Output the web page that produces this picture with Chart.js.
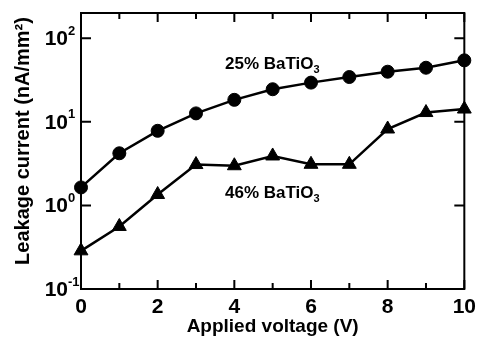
<!DOCTYPE html>
<html>
<head>
<meta charset="utf-8">
<script src="https://cdn.jsdelivr.net/npm/chart.js@4.4.0/dist/chart.umd.min.js"></script>
<style>
  html, body { margin: 0; padding: 0; background: #fff; }
  #wrap { width: 482px; height: 338px; }
</style>
</head>
<body>
<div id="wrap"><canvas id="chartLeak" width="482" height="338"></canvas></div>
<script>
const voltage = [0, 1, 2, 3, 4, 5, 6, 7, 8, 9, 10];
const leak25 = [1.64, 4.2, 7.8, 12.6, 18.3, 24.5, 29.4, 34.3, 39.7, 44.3, 54.3];
const leak46 = [0.286, 0.56, 1.35, 3.08, 2.98, 3.9, 3.1, 3.1, 8.2, 12.9, 14.2];
const yDecades = [-1, 0, 1, 2];
const xTickLabels = ["0", "2", "4", "6", "8", "10"];
const seriesNames = ["25% BaTiO", "46% BaTiO"];

const FONT = '"Liberation Sans", Arial, sans-serif';

function pts(vals) {
    return voltage.map((v, i) => ({ x: v, y: vals[i] }));
}

// frame, inward ticks, custom tick labels and annotations
const decorPlugin = {
    id: "decor",
    beforeDatasetsDraw(chart) {
        const { ctx, chartArea: a, scales: { x, y } } = chart;
        ctx.save();
        ctx.strokeStyle = "#000";
        ctx.lineWidth = 2;
        ctx.strokeRect(a.left, a.top, a.right - a.left, a.bottom - a.top);
        ctx.beginPath();
        voltage.forEach(v => {
            const px = x.getPixelForValue(v);
            const len = v % 2 === 0 ? 9 : 6;
            ctx.moveTo(px, a.bottom); ctx.lineTo(px, a.bottom - len);
            ctx.moveTo(px, a.top); ctx.lineTo(px, a.top + len);
        });
        yDecades.forEach(e => {
            const py = y.getPixelForValue(Math.pow(10, e));
            ctx.moveTo(a.left, py); ctx.lineTo(a.left + 10, py);
            ctx.moveTo(a.right, py); ctx.lineTo(a.right - 10, py);
        });
        ctx.stroke();
        ctx.restore();
    },
    afterDraw(chart) {
        const { ctx, chartArea: a, scales: { y } } = chart;
        ctx.save();
        ctx.fillStyle = "#000";

        // y tick labels 10^n
        yDecades.forEach(e => {
            const py = y.getPixelForValue(Math.pow(10, e));
            ctx.font = "bold 21px " + FONT;
            ctx.textAlign = "right";
            ctx.textBaseline = "middle";
            ctx.fillText("10", 68, py + 1);
            ctx.font = "bold 13px " + FONT;
            ctx.textAlign = "left";
            ctx.fillText(String(e), 68, py - 7);
        });

        // series labels with subscript
        const drawLabel = (txt, xx, yy) => {
            ctx.font = "bold 17px " + FONT;
            ctx.textAlign = "left";
            ctx.textBaseline = "alphabetic";
            ctx.fillText(txt, xx, yy);
            const w = ctx.measureText(txt).width;
            ctx.font = "bold 11px " + FONT;
            ctx.fillText("3", xx + w, yy + 4);
        };
        drawLabel(seriesNames[0], 225, 69);
        drawLabel(seriesNames[1], 225, 198);

        // axis titles
        ctx.font = "bold 19px " + FONT;
        ctx.textAlign = "center";
        ctx.textBaseline = "middle";
        ctx.fillText("Applied voltage (V)", (a.left + a.right) / 2, 327);

        ctx.font = "bold 20px " + FONT;
        ctx.translate(23, 141);
        ctx.rotate(-Math.PI / 2);
        ctx.fillText("Leakage current (nA/mm\u00b2)", 0, 0);
        ctx.restore();
    }
};

const ds = (vals, style, r) => ({
    data: pts(vals),
    borderColor: "#000",
    backgroundColor: "#000",
    borderWidth: 2.5,
    pointStyle: style,
    pointRadius: r,
    pointBorderWidth: 1,
    tension: 0,
    clip: false
});

new Chart(document.getElementById("chartLeak"), {
    type: "line",
    data: {
        datasets: [ds(leak25, "circle", 6.5), ds(leak46, "triangle", 8)]
    },
    options: {
        responsive: false,
        animation: false,
        devicePixelRatio: 1,
        layout: { padding: { top: 13, right: 13, left: 0, bottom: 0 } },
        plugins: { legend: { display: false }, tooltip: { enabled: false } },
        scales: {
            x: {
                type: "linear",
                min: 0,
                max: 10,
                grid: { display: false, drawTicks: false },
                border: { display: false },
                ticks: {
                    stepSize: 2,
                    padding: 6,
                    color: "#000",
                    font: { family: FONT, size: 21, weight: "bold" },
                    callback: v => xTickLabels.includes(String(v)) ? String(v) : ""
                },
                afterFit: s => { s.height = 49; }
            },
            y: {
                type: "logarithmic",
                min: 0.1,
                max: 200,
                grid: { display: false, drawTicks: false },
                border: { display: false },
                ticks: { display: false },
                afterFit: s => { s.width = 81; }
            }
        }
    },
    plugins: [decorPlugin]
});
</script>
</body>
</html>
